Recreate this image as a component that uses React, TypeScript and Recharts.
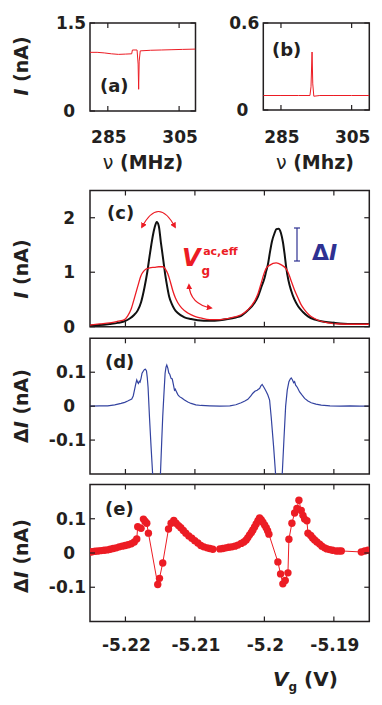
import React from "react";
import { LineChart, Line, XAxis, YAxis, ReferenceArea } from "recharts";

const W = 382;
const H = 705;
const FONT = "'DejaVu Sans', 'Liberation Sans', Arial, sans-serif";
const INK = "#231f20";
const RED = "#ec1c24";
const BLUE = "#3343a0";
const BLUE_TXT = "#2e3192";

// (a) current vs drive frequency, off resonance
const freqCurveA: [number, number][] = [
  [280, 1.0], [282, 1.0], [284, 0.99], [286, 0.975], [288, 0.965], [290, 0.97],
  [291.7, 0.975], [291.9, 1.04], [293.2, 1.04], [293.5, 0.8], [293.65, 0.37],
  [293.8, 0.85], [294.1, 1.025], [297, 1.035], [300, 1.04], [303, 1.045],
  [306, 1.05], [309.6, 1.055],
];
// (b) current vs drive frequency, Coulomb valley
const freqCurveB: [number, number][] = [
  [280, 0.1], [285, 0.1], [290, 0.1], [293.2, 0.1], [293.5, 0.16], [293.8, 0.4],
  [294.0, 0.18], [294.3, 0.095], [296, 0.1], [300, 0.1], [305, 0.1], [310, 0.1],
];
const freqTicks = [285, 305];

// (c) black: no rf, red: with rf
const peaksNoRf: [number, number][] = [
  [-5.2251, 0.02], [-5.2237, 0.03], [-5.22226, 0.05], [-5.22111, 0.07], [-5.22014, 0.1],
  [-5.21938, 0.15], [-5.2188, 0.21], [-5.21823, 0.3], [-5.21775, 0.45], [-5.21726, 0.72],
  [-5.21686, 1.0], [-5.21654, 1.28], [-5.21628, 1.5], [-5.21607, 1.66], [-5.21578, 1.83],
  [-5.21549, 1.92], [-5.2152, 1.85], [-5.2149, 1.55], [-5.21458, 1.25], [-5.21429, 0.97],
  [-5.21398, 0.73], [-5.2137, 0.55], [-5.21333, 0.42], [-5.21294, 0.32], [-5.21246, 0.25],
  [-5.2115, 0.17], [-5.21055, 0.14], [-5.20958, 0.12], [-5.20785, 0.11], [-5.20641, 0.12],
  [-5.20526, 0.14], [-5.20411, 0.17], [-5.20334, 0.2], [-5.20238, 0.3], [-5.20141, 0.44],
  [-5.20094, 0.55], [-5.20046, 0.72], [-5.19997, 0.9], [-5.19974, 1.02], [-5.1995, 1.14],
  [-5.19921, 1.36], [-5.19892, 1.56], [-5.19853, 1.72], [-5.19827, 1.79], [-5.19795, 1.8],
  [-5.19762, 1.72], [-5.19733, 1.55], [-5.19709, 1.33], [-5.19686, 1.09], [-5.19654, 0.85],
  [-5.19614, 0.66], [-5.19568, 0.5], [-5.19517, 0.38], [-5.19445, 0.27], [-5.19373, 0.19],
  [-5.19272, 0.13], [-5.19182, 0.1], [-5.19085, 0.08], [-5.18912, 0.06], [-5.18696, 0.05],
  [-5.18494, 0.05],
];
const peaksRf: [number, number][] = [
  [-5.2251, 0.03], [-5.2237, 0.05], [-5.22226, 0.07], [-5.22111, 0.1], [-5.22014, 0.13],
  [-5.21967, 0.2], [-5.21919, 0.32], [-5.2187, 0.53], [-5.21823, 0.74], [-5.21775, 0.94],
  [-5.21736, 1.02], [-5.21703, 1.06], [-5.2165, 1.08], [-5.21582, 1.09], [-5.2152, 1.1],
  [-5.21463, 1.1], [-5.21427, 1.06], [-5.2139, 0.97], [-5.21355, 0.83], [-5.21318, 0.66],
  [-5.21282, 0.53], [-5.21246, 0.44], [-5.21189, 0.34], [-5.21102, 0.25], [-5.21002, 0.19],
  [-5.20915, 0.16], [-5.20785, 0.13], [-5.20641, 0.13], [-5.20526, 0.15], [-5.20425, 0.18],
  [-5.20334, 0.22], [-5.20238, 0.31], [-5.20141, 0.47], [-5.20094, 0.6], [-5.20046, 0.8],
  [-5.20007, 0.97], [-5.19974, 1.07], [-5.19921, 1.13], [-5.1983, 1.17], [-5.19762, 1.14],
  [-5.19686, 1.06], [-5.19647, 0.96], [-5.19614, 0.84], [-5.19568, 0.68], [-5.19517, 0.53],
  [-5.19474, 0.41], [-5.19421, 0.31], [-5.19359, 0.22], [-5.19277, 0.15], [-5.19186, 0.1],
  [-5.19085, 0.07], [-5.18912, 0.05], [-5.18696, 0.045], [-5.18494, 0.045],
];

// (d) difference of the two traces in (c)
const diffTrace: [number, number][] = [
  [-5.2251, 0.0], [-5.2237, 0.001], [-5.22255, 0.001], [-5.22154, 0.004], [-5.22063, 0.008],
  [-5.2201, 0.011], [-5.21967, 0.015], [-5.21931, 0.019], [-5.21909, 0.021], [-5.21888, 0.03],
  [-5.2187, 0.047], [-5.21852, 0.065], [-5.21837, 0.077], [-5.21823, 0.07], [-5.21813, 0.067],
  [-5.21801, 0.073], [-5.2179, 0.071], [-5.21775, 0.082], [-5.21761, 0.097], [-5.21744, 0.103],
  [-5.21726, 0.108], [-5.21712, 0.109], [-5.21697, 0.104], [-5.21686, 0.085], [-5.21674, 0.055],
  [-5.21654, -0.032], [-5.21631, -0.12], [-5.21607, -0.205], [-5.21578, -0.28], [-5.21549, -0.3],
  [-5.2152, -0.27], [-5.21496, -0.2], [-5.21477, -0.1], [-5.21463, -0.03], [-5.21448, 0.028],
  [-5.21429, 0.097], [-5.21416, 0.115], [-5.21405, 0.121], [-5.2139, 0.112], [-5.21376, 0.098],
  [-5.21362, 0.094], [-5.21343, 0.082], [-5.21326, 0.08], [-5.21311, 0.065], [-5.21294, 0.047],
  [-5.21282, 0.05], [-5.21271, 0.045], [-5.21246, 0.034], [-5.21222, 0.028], [-5.21189, 0.024],
  [-5.2115, 0.018], [-5.21102, 0.012], [-5.21055, 0.008], [-5.20987, 0.004], [-5.20911, 0.002],
  [-5.20785, 0.001], [-5.20641, 0.0], [-5.20497, 0.001], [-5.20411, 0.004], [-5.20334, 0.01],
  [-5.20281, 0.015], [-5.20238, 0.02], [-5.20195, 0.03], [-5.20166, 0.038], [-5.20137, 0.044],
  [-5.20104, 0.047], [-5.20087, 0.05], [-5.20069, 0.052], [-5.2005, 0.06], [-5.20032, 0.064],
  [-5.20014, 0.058], [-5.19997, 0.052], [-5.19974, 0.043], [-5.1995, 0.033], [-5.19925, 0.018],
  [-5.19902, -0.032], [-5.19867, -0.12], [-5.19839, -0.2], [-5.19813, -0.26], [-5.19791, -0.29],
  [-5.19762, -0.25], [-5.19743, -0.2], [-5.19719, -0.1], [-5.19694, 0.0], [-5.19671, 0.047],
  [-5.19647, 0.072], [-5.19628, 0.08], [-5.19614, 0.083], [-5.19597, 0.078], [-5.19579, 0.069],
  [-5.19565, 0.072], [-5.1955, 0.062], [-5.19525, 0.055], [-5.19493, 0.042], [-5.1946, 0.033],
  [-5.19421, 0.023], [-5.19373, 0.015], [-5.19326, 0.01], [-5.19258, 0.006], [-5.19182, 0.003],
  [-5.19056, 0.001], [-5.18912, 0.0], [-5.18768, 0.001], [-5.18624, 0.0], [-5.18494, 0.0],
];

// (e) measured points
const diffPoints: [number, number][] = [
  [-5.225, 0.003], [-5.22478, 0.004], [-5.22435, 0.005], [-5.22392, 0.006], [-5.22349, 0.007],
  [-5.22305, 0.008], [-5.22262, 0.009], [-5.22219, 0.011], [-5.22176, 0.013], [-5.22133, 0.015],
  [-5.22089, 0.018], [-5.22046, 0.02], [-5.22003, 0.022], [-5.2196, 0.024], [-5.21916, 0.027],
  [-5.21873, 0.032], [-5.21837, 0.041], [-5.21823, 0.077], [-5.21775, 0.072], [-5.21741, 0.099],
  [-5.21718, 0.093], [-5.21693, 0.087], [-5.21669, 0.058], [-5.21535, -0.092], [-5.2151, -0.074],
  [-5.21463, -0.029], [-5.2138, 0.07], [-5.21343, 0.087], [-5.21304, 0.095], [-5.21271, 0.087],
  [-5.21236, 0.08], [-5.21203, 0.074], [-5.21167, 0.066], [-5.21131, 0.058], [-5.21088, 0.05],
  [-5.21045, 0.043], [-5.21002, 0.036], [-5.20958, 0.029], [-5.20915, 0.022], [-5.20872, 0.018],
  [-5.20824, 0.015], [-5.20785, 0.013], [-5.20742, 0.011], [-5.20641, 0.012], [-5.20598, 0.013],
  [-5.20555, 0.015], [-5.20512, 0.017], [-5.20468, 0.018], [-5.20425, 0.02], [-5.20382, 0.023],
  [-5.20334, 0.028], [-5.20295, 0.032], [-5.20262, 0.038], [-5.20238, 0.045], [-5.20213, 0.053],
  [-5.20187, 0.06], [-5.20166, 0.067], [-5.20141, 0.076], [-5.20118, 0.085], [-5.20094, 0.094],
  [-5.20069, 0.102], [-5.20046, 0.097], [-5.20022, 0.09], [-5.19997, 0.082], [-5.19974, 0.074],
  [-5.19954, 0.065], [-5.19935, 0.055], [-5.19806, -0.026], [-5.19767, -0.061], [-5.19734, -0.09],
  [-5.197, -0.08], [-5.19661, -0.058], [-5.19647, 0.04], [-5.19604, 0.087], [-5.19565, 0.117],
  [-5.19532, 0.13], [-5.19503, 0.154], [-5.1947, 0.124], [-5.19445, 0.11], [-5.19421, 0.099],
  [-5.19388, 0.094], [-5.19373, 0.058], [-5.19334, 0.051], [-5.19306, 0.044], [-5.19277, 0.038],
  [-5.19244, 0.032], [-5.19205, 0.026], [-5.19172, 0.02], [-5.19133, 0.015], [-5.19099, 0.012],
  [-5.19061, 0.01], [-5.1902, 0.008], [-5.18966, 0.006], [-5.18927, 0.006], [-5.18893, 0.006],
  [-5.18605, 0.003], [-5.18556, 0.006], [-5.18509, 0.008],
];
const gateTicks = [-5.22, -5.21, -5.2, -5.19];
const gateDomain: [number, number] = [-5.2251, -5.1849];

type Box = { left: number; right: number; top: number; bottom: number };

const boxA: Box = { left: 90, right: 195.5, top: 23, bottom: 111 };
const boxB: Box = { left: 263.3, right: 369.3, top: 23, bottom: 110 };
const boxC: Box = { left: 90, right: 369.3, top: 190.5, bottom: 326.7 };
const boxD: Box = { left: 90, right: 369.3, top: 338.3, bottom: 474 };
const boxE: Box = { left: 90, right: 369.3, top: 484.5, bottom: 621.5 };

const AXIS_W = 40; // room given to the left axis
const AXIS_H = 30; // room given to the bottom axis

const toRows = (pts: [number, number][]) => pts.map(([x, y]) => ({ x, y }));

const tickText = { fontFamily: FONT, fontWeight: 700, fontSize: 17, fill: INK };

// y ticks: inward marks on both sides, label on the left
function YTick(props: any) {
  const { y, payload, box } = props;
  const v = payload.value as number;
  const label = String(v);
  const offset = label.includes(".") ? 4 : 15;
  return (
    <g>
      <line x1={box.left} x2={box.left + 5} y1={y} y2={y} stroke={INK} strokeWidth={1.2} />
      <line x1={box.right - 5} x2={box.right} y1={y} y2={y} stroke={INK} strokeWidth={1.2} />
      <text x={box.left - offset} y={y + 6} textAnchor="end" {...tickText}>
        {label}
      </text>
    </g>
  );
}

// x ticks: inward marks on top and bottom, optional label below
function XTick(props: any) {
  const { x, payload, box, labelGap } = props;
  return (
    <g>
      <line x1={x} x2={x} y1={box.bottom} y2={box.bottom - 5} stroke={INK} strokeWidth={1.2} />
      <line x1={x} x2={x} y1={box.top} y2={box.top + 5} stroke={INK} strokeWidth={1.2} />
      {labelGap !== null && (
        <text x={x + 1} y={box.bottom + labelGap + 6} textAnchor="middle" {...tickText}>
          {String(payload.value)}
        </text>
      )}
    </g>
  );
}

function Panel({
  box, xDomain, xTicks, yDomain, yTicks, labelGap, children,
}: {
  box: Box; xDomain: [number, number]; xTicks: number[]; yDomain: [number, number];
  yTicks: number[]; labelGap: number | null; children: React.ReactNode;
}) {
  return (
    <div style={{ position: "absolute", left: 0, top: 0 }}>
      <LineChart
        width={W}
        height={H}
        margin={{ left: box.left - AXIS_W, right: W - box.right, top: box.top, bottom: H - box.bottom - AXIS_H }}
      >
        <XAxis
          type="number"
          dataKey="x"
          domain={xDomain}
          ticks={xTicks}
          interval={0}
          allowDataOverflow
          height={AXIS_H}
          tickSize={0}
          tickMargin={0}
          tickLine={false}
          axisLine={false}
          tick={(p: any) => <XTick {...p} box={box} labelGap={labelGap} />}
        />
        <YAxis
          type="number"
          domain={yDomain}
          ticks={yTicks}
          interval={0}
          allowDataOverflow
          width={AXIS_W}
          tickSize={0}
          tickMargin={0}
          tickLine={false}
          axisLine={false}
          tick={(p: any) => <YTick {...p} box={box} />}
        />
        <ReferenceArea
          x1={xDomain[0]}
          x2={xDomain[1]}
          y1={yDomain[0]}
          y2={yDomain[1]}
          fill="none"
          fillOpacity={0}
          stroke={INK}
          strokeWidth={1.5}
        />
        {children}
      </LineChart>
    </div>
  );
}

const titleStyle = { fontFamily: FONT, fontWeight: 700, fill: INK };

export default function App() {
  return (
    <div style={{ position: "absolute", left: 0, top: 0, width: W, height: H, background: "#fff", overflow: "hidden" }}>
      <Panel box={boxA} xDomain={[280, 309.6]} xTicks={freqTicks} yDomain={[0, 1.5]} yTicks={[0, 1.5]} labelGap={25.7}>
        <Line data={toRows(freqCurveA)} dataKey="y" type="linear" stroke={RED} strokeWidth={1} dot={false} activeDot={false} isAnimationActive={false} />
      </Panel>
      <Panel box={boxB} xDomain={[280, 310]} xTicks={freqTicks} yDomain={[0, 0.6]} yTicks={[0, 0.6]} labelGap={26.7}>
        <Line data={toRows(freqCurveB)} dataKey="y" type="linear" stroke={RED} strokeWidth={1} dot={false} activeDot={false} isAnimationActive={false} />
      </Panel>
      <Panel box={boxC} xDomain={gateDomain} xTicks={gateTicks} yDomain={[0, 2.5]} yTicks={[0, 1, 2]} labelGap={null}>
        <Line data={toRows(peaksNoRf)} dataKey="y" type="monotone" stroke="#111" strokeWidth={2} dot={false} activeDot={false} isAnimationActive={false} />
        <Line data={toRows(peaksRf)} dataKey="y" type="monotone" stroke={RED} strokeWidth={1.3} dot={false} activeDot={false} isAnimationActive={false} />
      </Panel>
      <Panel box={boxD} xDomain={gateDomain} xTicks={gateTicks} yDomain={[-0.2, 0.2]} yTicks={[-0.1, 0, 0.1]} labelGap={null}>
        <Line data={toRows(diffTrace)} dataKey="y" type="linear" stroke={BLUE} strokeWidth={1.2} dot={false} activeDot={false} isAnimationActive={false} />
      </Panel>
      <Panel box={boxE} xDomain={gateDomain} xTicks={gateTicks} yDomain={[-0.2, 0.2]} yTicks={[-0.1, 0, 0.1]} labelGap={23.5}>
        <Line
          data={toRows(diffPoints)}
          dataKey="y"
          type="linear"
          stroke={RED}
          strokeWidth={1}
          dot={{ r: 3.7, fill: RED, stroke: RED, strokeWidth: 0 }}
          activeDot={false}
          isAnimationActive={false}
        />
      </Panel>

      <svg width={W} height={H} style={{ position: "absolute", left: 0, top: 0, pointerEvents: "none" }}>
        <defs>
          <marker id="ah" viewBox="0 0 10 10" refX="7" refY="5" markerWidth="5" markerHeight="5" orient="auto-start-reverse">
            <path d="M0,0 L10,5 L0,10 z" fill={RED} />
          </marker>
        </defs>

        {/* axis titles */}
        <text transform="translate(28,66) rotate(-90)" textAnchor="middle" fontSize={19} {...titleStyle}>
          <tspan fontStyle="italic">I</tspan> (nA)
        </text>
        <text transform="translate(28,269) rotate(-90)" textAnchor="middle" fontSize={19} {...titleStyle}>
          <tspan fontStyle="italic">I</tspan> (nA)
        </text>
        <text transform="translate(28,406) rotate(-90)" textAnchor="middle" fontSize={19} {...titleStyle}>
          Δ<tspan fontStyle="italic">I</tspan> (nA)
        </text>
        <text transform="translate(28,556) rotate(-90)" textAnchor="middle" fontSize={19} {...titleStyle}>
          Δ<tspan fontStyle="italic">I</tspan> (nA)
        </text>
        <text x={143} y={169} textAnchor="middle" fontSize={19} {...titleStyle}>
          <tspan fontWeight={400}>ν</tspan> (MHz)
        </text>
        <text x={315} y={169} textAnchor="middle" fontSize={19} {...titleStyle}>
          <tspan fontWeight={400}>ν</tspan> (Mhz)
        </text>
        <text x={273} y={686} fontSize={20} {...titleStyle}>
          <tspan fontStyle="italic">V</tspan>
          <tspan fontSize={12} dy={5}>g</tspan>
          <tspan dy={-5}> (V)</tspan>
        </text>

        {/* panel tags */}
        <text x={100} y={92} fontSize={18} {...titleStyle}>(a)</text>
        <text x={272} y={56} fontSize={18} {...titleStyle}>(b)</text>
        <text x={107} y={219} fontSize={18} {...titleStyle}>(c)</text>
        <text x={105} y={368} fontSize={18} {...titleStyle}>(d)</text>
        <text x={105} y={515} fontSize={18} {...titleStyle}>(e)</text>

        {/* rf broadening arrows */}
        <path d="M142,227 Q158.5,196 175,227" fill="none" stroke={RED} strokeWidth={1.2} markerStart="url(#ah)" markerEnd="url(#ah)" />
        <path d="M189,285 Q190,304 211,308" fill="none" stroke={RED} strokeWidth={1.2} markerStart="url(#ah)" markerEnd="url(#ah)" />
        <text x={182} y={266} fontSize={24} fontFamily={FONT} fontWeight={700} fill={RED}>
          <tspan fontStyle="italic">V</tspan>
          <tspan fontSize={12} dx={1} dy={9}>g</tspan>
          <tspan fontSize={11} dx={-7} dy={-20}>ac,eff</tspan>
        </text>

        {/* delta I marker */}
        <line x1={297} x2={297} y1={228} y2={261} stroke={BLUE_TXT} strokeWidth={1.2} />
        <line x1={294} x2={300} y1={228} y2={228} stroke={BLUE_TXT} strokeWidth={1.2} />
        <line x1={294} x2={300} y1={261} y2={261} stroke={BLUE_TXT} strokeWidth={1.2} />
        <text x={312} y={260} fontSize={22} fontFamily={FONT} fontWeight={700} fill={BLUE_TXT}>
          Δ<tspan fontStyle="italic">I</tspan>
        </text>
      </svg>
    </div>
  );
}
